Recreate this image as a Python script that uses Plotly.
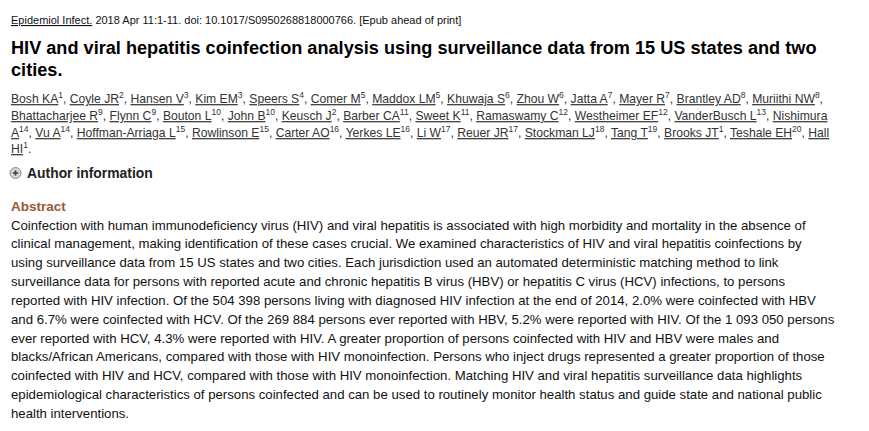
import plotly.graph_objects as go

# ---------------- data (text content) ----------------
journal = "Epidemiol Infect."
citation = " 2018 Apr 11:1-11. doi: 10.1017/S0950268818000766. [Epub ahead of print]"
title_lines = [
    "HIV and viral hepatitis coinfection analysis using surveillance data from 15 US states and two",
    "cities.",
]
author_names = [
    "Bosh KA", "Coyle JR", "Hansen V", "Kim EM", "Speers S", "Comer M", "Maddox LM",
    "Khuwaja S", "Zhou W", "Jatta A", "Mayer R", "Brantley AD", "Muriithi NW",
    "Bhattacharjee R", "Flynn C", "Bouton L", "John B", "Keusch J", "Barber CA",
    "Sweet K", "Ramaswamy C", "Westheimer EF", "VanderBusch L", "Nishimura A",
    "Vu A", "Hoffman-Arriaga L", "Rowlinson E", "Carter AO", "Yerkes LE", "Li W",
    "Reuer JR", "Stockman LJ", "Tang T", "Brooks JT", "Teshale EH", "Hall HI",
]
author_affils = [1, 2, 3, 3, 4, 5, 5, 6, 6, 7, 7, 8, 8, 9, 9, 10, 10, 2, 11, 11,
                 12, 12, 13, 14, 14, 15, 15, 16, 16, 17, 17, 18, 19, 1, 20, 1]
# index of last author fully on the first line; names split across lines: Nishimura A, Hall HI
author_line_ends = [12]
author_info_label = "Author information"
abstract_heading = "Abstract"
abstract_lines = [
    "Coinfection with human immunodeficiency virus (HIV) and viral hepatitis is associated with high morbidity and mortality in the absence of",
    "clinical management, making identification of these cases crucial. We examined characteristics of HIV and viral hepatitis coinfections by",
    "using surveillance data from 15 US states and two cities. Each jurisdiction used an automated deterministic matching method to link",
    "surveillance data for persons with reported acute and chronic hepatitis B virus (HBV) or hepatitis C virus (HCV) infections, to persons",
    "reported with HIV infection. Of the 504 398 persons living with diagnosed HIV infection at the end of 2014, 2.0% were coinfected with HBV",
    "and 6.7% were coinfected with HCV. Of the 269 884 persons ever reported with HBV, 5.2% were reported with HIV. Of the 1 093 050 persons",
    "ever reported with HCV, 4.3% were reported with HIV. A greater proportion of persons coinfected with HIV and HBV were males and",
    "blacks/African Americans, compared with those with HIV monoinfection. Persons who inject drugs represented a greater proportion of those",
    "coinfected with HIV and HCV, compared with those with HIV monoinfection. Matching HIV and viral hepatitis surveillance data highlights",
    "epidemiological characteristics of persons coinfected and can be used to routinely monitor health status and guide state and national public",
    "health interventions.",
]

# ---------------- styling ----------------
W, H = 869, 431
BODY_MARGIN = 8  # default page margin around the plot div
FONT = "Liberation Sans, Arial, sans-serif"
LEFT = 9


def u(s):
    return '<span style="text-decoration:underline">' + s + '</span>'


def author_piece(name, aff):
    return u(name) + "<sup>" + str(aff) + "</sup>"


# build author lines
lines_html = []
cur = []
for i, (nm, af) in enumerate(zip(author_names, author_affils)):
    if nm == "Nishimura A":
        cur.append(u("Nishimura"))
        lines_html.append(", ".join(cur))
        cur = [u("A") + "<sup>" + str(af) + "</sup>"]
        continue
    if nm == "Hall HI":
        cur.append(u("Hall"))
        lines_html.append(", ".join(cur))
        cur = [u("HI") + "<sup>" + str(af) + "</sup>."]
        continue
    cur.append(author_piece(nm, af))
    if i == author_line_ends[0]:
        lines_html.append(", ".join(cur) + ",")
        cur = []
lines_html.append(", ".join(cur))

fig = go.Figure()
ann = []


def add(text, x, y, size, color="#000", bold=False):
    ann.append(dict(
        text=("<b>" + text + "</b>") if bold else text,
        x=x, y=y, xref="x", yref="y", xanchor="left", yanchor="middle",
        showarrow=False, align="left",
        font=dict(family=FONT, size=size, color=color),
    ))


add(u(journal) + citation, LEFT, 20, 11, "#111")
for k, t in enumerate(title_lines):
    add(t, LEFT, 48 + k * 22, 18.15, "#000", bold=True)
for k, t in enumerate(lines_html):
    add(t, LEFT, 98 + k * 16.8, 12.15, "#333")
add(author_info_label, 25, 173, 13.9, "#222", bold=True)
add(abstract_heading, LEFT, 206, 13.5, "#985735", bold=True)
for k, t in enumerate(abstract_lines):
    add(t, LEFT, 225 + k * 18.85, 13.2, "#111")

# plus-in-circle icon
shapes = [
    dict(type="circle", xref="x", yref="y", x0=10, x1=21, y0=167.5, y1=178.5,
         fillcolor="#d6d6d6", line=dict(color="#8a8a8a", width=1)),
    dict(type="line", xref="x", yref="y", x0=12.8, x1=18.2, y0=173, y1=173,
         line=dict(color="#444", width=1.6)),
    dict(type="line", xref="x", yref="y", x0=15.5, x1=15.5, y0=170.3, y1=175.7,
         line=dict(color="#444", width=1.6)),
]

fig.update_layout(
    width=W - BODY_MARGIN, height=H - BODY_MARGIN, margin=dict(l=0, r=0, t=0, b=0),
    paper_bgcolor="white", plot_bgcolor="white",
    xaxis=dict(range=[BODY_MARGIN, W], visible=False, fixedrange=True),
    yaxis=dict(range=[H, BODY_MARGIN], visible=False, fixedrange=True),
    annotations=ann, shapes=shapes, showlegend=False,
)
fig.write_html("out.html", config={"displayModeBar": False})
